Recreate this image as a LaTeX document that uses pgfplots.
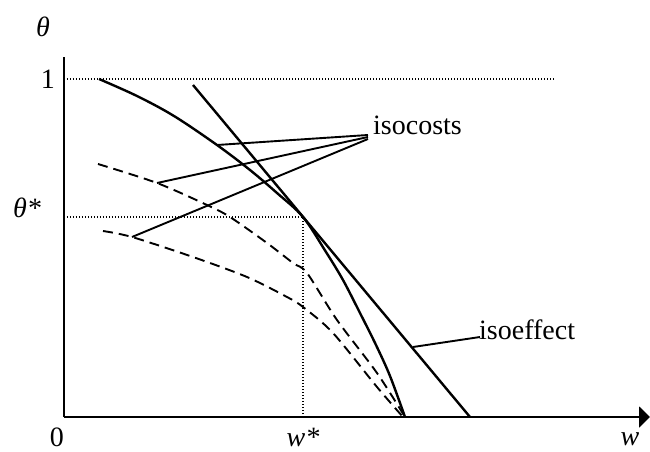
\documentclass[border=0pt]{standalone}
\usepackage{fontspec}
\setmainfont{Liberation Serif}
\usepackage{pgfplots}
\pgfplotsset{compat=1.18}
\usetikzlibrary{arrows.meta}

\begin{document}
\begin{tikzpicture}
\begin{axis}[
    x=1pt, y=1pt,
    xmin=0, xmax=586,
    ymin=0, ymax=360,
    axis lines=left,
    x axis line style={line width=2pt, -{Triangle[length=11pt,width=21pt]}},
    y axis line style={line width=2pt, -},
    xtick=\empty, ytick=\empty,
    clip=false,
    font=\fontsize{28}{32}\selectfont,
]

% solid isocost (the one tangent to the isoeffect)
\addplot[line width=2.4pt, smooth, tension=0.55] coordinates {
    (35,338) (73,321) (110,301) (153,272) (186,247) (213,224)
    (239,200) (262,165) (279,137) (296,104) (312,72) (326,41) (341,0)
};

% isoeffect line
\addplot[line width=2.4pt] coordinates {(129,332) (406,0)};

% dashed isocosts
\addplot[line width=1.9pt, dash pattern=on 10pt off 6pt, smooth, tension=0.5] coordinates {
    (34,253) (93,234) (143,212) (166,200) (203,174) (229,154)
    (243,144) (273,97) (313,44) (341,0)
};
\addplot[line width=1.9pt, dash pattern=on 10pt off 6pt, smooth, tension=0.5] coordinates {
    (39,186) (68,180) (129,160) (183,140) (223,120) (239,110)
    (269,84) (313,30) (339,0)
};

% dotted guides
\addplot[line width=1.3pt, dash pattern=on 1.2pt off 1.8pt] coordinates {(0,338) (491,338)};
\addplot[line width=1.3pt, dash pattern=on 1.2pt off 1.8pt] coordinates {(0,200) (239,200) (239,0)};

% pointer lines
\addplot[line width=1.9pt] coordinates {(153,272) (304,282)};
\addplot[line width=1.9pt] coordinates {(93,234) (304,280)};
\addplot[line width=1.9pt] coordinates {(68,180) (304,278)};
\addplot[line width=1.9pt] coordinates {(349,70) (416,80)};

% labels
\node at (axis cs:-21,390) {\textit{θ}};
\node at (axis cs:-16,338) {1};
\node at (axis cs:-37,209) {\textit{θ*}};
\node at (axis cs:-7,-20) {0};
\node at (axis cs:239,-20) {\textit{w*}};
\node at (axis cs:566,-22) {\textit{w}};
\node[anchor=west, inner sep=0pt] at (axis cs:309,292) {isocosts};
\node[anchor=west, inner sep=0pt] at (axis cs:415,87) {isoeffect};

\coordinate (bl) at (axis cs:-64,-34);
\coordinate (tr) at (axis cs:586,417);
\end{axis}
\pgfresetboundingbox
\useasboundingbox (bl) rectangle (tr);
\end{tikzpicture}
\end{document}
